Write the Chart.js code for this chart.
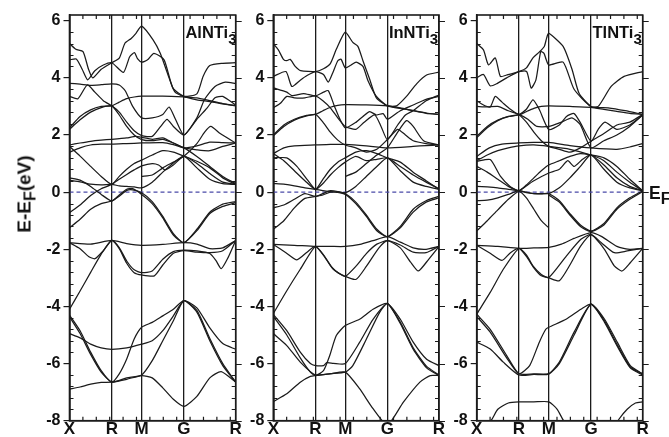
<!DOCTYPE html>
<html><head><meta charset="utf-8">
<script src="https://cdn.jsdelivr.net/npm/chart.js@4.4.1/dist/chart.umd.min.js"></script>
<style>
html,body{margin:0;padding:0;background:#fff;}
#wrap{position:relative;width:669px;height:437px;overflow:hidden;font-family:"Liberation Sans",Arial,sans-serif;font-weight:bold;color:#111;}
canvas{position:absolute;top:0;}
.lbl{position:absolute;white-space:nowrap;line-height:1;font-size:16.5px;}
.sub{position:relative;top:6px;font-size:15px;}
#ytitle{position:absolute;left:24px;top:194px;transform:translate(-50%,-50%) rotate(-90deg);white-space:nowrap;line-height:1;font-size:19px;}
#ytitle .sub{top:5px;font-size:16px;}
</style></head><body>
<div id="wrap">
<canvas id="c0"></canvas><canvas id="c1"></canvas><canvas id="c2"></canvas>
<div id="ytitle">E-E<span class="sub">F</span>(eV)</div>
<div class="lbl" id="t0">AlNTi<span class="sub">3</span></div>
<div class="lbl" id="t1">InNTi<span class="sub">3</span></div>
<div class="lbl" id="t2">TlNTi<span class="sub">3</span></div>
<div class="lbl" id="ef" style="left:649px;top:185px;font-size:17.5px;">E<span class="sub" style="top:5px;font-size:16px;">F</span></div>
</div>
<script>
// k-path: X R M G R  (s = 0..4 along the path, mapped to k distance)
const kLabels = ['X','R','M','G','R'];
const kDist = [0, 0.707, 1.207, 1.914, 2.780];
const yTicks = [-8,-6,-4,-2,0,2,4,6];
const eMin = -8, eMax = 6.2, eFermi = 0;
const panelNames = ['AlNTi','InNTi','TlNTi'];

// bands: each curve is a list of [s, E(eV)]
const alBands = [
 [[0,-6.9],[0.25,-6.82],[0.5,-6.72],[0.75,-6.66],[1,-6.65],[1.5,-6.55],[2,-6.42],[2.25,-6.5],[2.5,-6.85],[2.75,-7.25],[3,-7.5],[3.25,-7.15],[3.5,-6.5],[3.72,-6.28],[4,-6.65]],
 [[0,-4.3],[0.25,-4.85],[0.5,-5.6],[0.75,-6.25],[1,-6.65],[1.5,-6.5],[2,-6.4],[2.25,-5.9],[2.5,-5.2],[2.75,-4.5],[3,-3.8],[3.25,-4.2],[3.5,-5.2],[3.75,-6.07],[4,-6.65]],
 [[0,-4.36],[0.25,-4.95],[0.5,-5.68],[0.75,-6.3],[1,-6.65],[1.25,-6.36],[1.5,-5.84],[1.75,-5.14],[2,-4.73],[2.25,-4.56],[2.5,-4.33],[2.75,-4.1],[3,-3.8],[3.25,-4.14],[3.5,-5.12],[3.75,-6.0],[4,-6.65]],
 [[0,-4.95],[0.25,-5.1],[0.5,-5.32],[0.75,-5.45],[1,-5.5],[1.5,-5.45],[2,-5.32],[2.25,-5.2],[2.5,-4.85],[2.75,-4.33],[3,-3.8],[3.25,-4.05],[3.5,-4.75],[3.75,-5.3],[4,-5.5]],
 [[0,-4.1],[0.25,-3.46],[0.5,-2.81],[0.75,-2.17],[1,-1.69],[1.25,-1.94],[1.5,-2.41],[1.75,-2.72],[2,-2.82],[2.25,-2.76],[2.5,-2.35],[2.75,-2.08],[3,-2.03],[3.25,-2.06],[3.5,-2.15],[3.62,-2.4],[3.72,-2.68],[3.85,-2.3],[4,-1.69]],
 [[0,-1.77],[0.25,-1.98],[0.45,-2.25],[0.6,-2.33],[0.8,-2.05],[1,-1.69],[1.25,-1.98],[1.5,-2.49],[1.75,-2.82],[2,-2.9],[2.3,-2.93],[2.5,-2.55],[2.75,-2.14],[3,-2.05],[3.25,-2.1],[3.5,-2.12],[3.75,-2.05],[4,-1.69]],
 [[0,-1.77],[0.5,-1.82],[1,-1.69],[1.5,-1.8],[2,-1.86],[2.5,-1.83],[3,-1.77],[3.25,-1.82],[3.5,-1.98],[3.75,-1.95],[4,-1.69]],
 [[0,0.5],[0.25,0.42],[0.5,0.2],[0.75,-0.08],[1,-0.31],[1.25,-0.1],[1.5,0.1],[1.7,0.12],[2,-0.08],[2.25,-0.4],[2.5,-0.9],[2.75,-1.5],[3,-1.77],[3.25,-1.35],[3.5,-0.75],[3.75,-0.5],[4,-0.37]],
 [[0,-1.25],[0.25,-0.95],[0.5,-0.6],[0.75,-0.4],[1,-0.31],[1.25,-0.14],[1.5,0.06],[1.7,0.08],[2,-0.02],[2.25,-0.33],[2.5,-0.85],[2.75,-1.45],[3,-1.77],[3.25,-1.3],[3.5,-0.7],[3.75,-0.42],[4,-0.33]],
 [[0,0.42],[0.25,0.36],[0.5,0.28],[0.75,0.25],[1,0.27],[1.25,0.22],[1.5,0.2],[1.75,0.18],[2,0.15],[2.25,0.35],[2.5,0.7],[2.75,1.02],[3,1.26],[3.25,0.85],[3.5,0.45],[3.75,0.3],[4,0.27]],
 [[0,-0.72],[0.25,-0.45],[0.5,-0.12],[0.75,0.12],[1,0.27],[1.25,0.45],[1.5,0.62],[1.75,0.78],[2,0.92],[2.25,1.0],[2.4,0.95],[2.55,0.78],[2.75,0.95],[3,1.26],[3.25,1.0],[3.5,0.65],[3.75,0.35],[4,0.27]],
 [[0,1.6],[0.25,1.26],[0.5,0.9],[0.75,0.55],[1,0.27],[1.25,0.55],[1.5,0.8],[1.75,1.0],[2,1.12],[2.25,1.3],[2.5,1.45],[2.75,1.4],[3,1.26],[3.25,1.08],[3.5,0.85],[3.75,0.5],[4,0.27]],
 [[0,1.4],[0.25,1.55],[0.5,1.65],[0.75,1.68],[1,1.68],[1.5,1.7],[2,1.72],[2.5,1.73],[2.75,1.66],[3,1.55],[3.25,1.48],[3.5,1.45],[3.75,1.6],[4,1.72]],
 [[0,1.65],[0.25,1.72],[0.5,1.78],[0.75,1.82],[1,1.85],[1.5,1.9],[1.8,1.95],[2,1.92],[2.25,1.85],[2.5,1.9],[2.75,1.72],[3,1.55],[3.25,1.25],[3.5,0.9],[3.75,0.55],[4,0.3]],
 [[2,0.55],[2.25,0.6],[2.5,0.85],[2.75,1.05],[3,1.26],[3.25,1.7],[3.4,2.1],[3.52,2.3],[3.7,2.05],[4,1.72]],
 [[0,5.2],[0.15,5.0],[0.32,4.92],[0.45,4.3],[0.55,4.0],[0.75,4.3],[1,4.53],[1.25,4.69],[1.44,5.21],[1.65,5.38],[1.81,5.56],[2,5.81],[2.27,5.33],[2.44,4.86],[2.61,4.16],[2.78,3.52],[3,3.35],[3.25,3.44],[3.37,4.05],[3.5,4.43],[3.75,4.51],[4,4.53]],
 [[0,4.63],[0.16,4.66],[0.3,4.3],[0.43,3.93],[0.6,4.25],[0.8,4.45],[1,4.53],[1.39,4.19],[1.6,4.74],[1.76,4.88],[1.86,4.67],[2,4.55],[2.14,4.63],[2.29,4.86],[2.53,4.63],[2.74,3.64],[3,3.35],[3.25,3.23],[3.5,3.17],[3.75,3.09],[4,3.02]],
 [[0,3.81],[0.25,3.78],[0.5,3.74],[0.75,3.76],[1,3.79],[1.25,3.75],[1.45,3.55],[1.7,3.0],[2,2.6],[2.25,2.6],[2.5,2.72],[2.65,2.98],[2.8,2.55],[3,2.0],[3.25,2.6],[3.4,3.25],[3.6,3.7],[3.8,3.85],[4,3.8]],
 [[0,3.35],[0.2,3.27],[0.42,3.75],[0.6,3.5],[0.8,3.2],[1,3.02],[1.25,2.8],[1.5,2.45],[1.75,2.15],[2,1.98],[2.25,1.95],[2.45,2.3],[2.6,2.55],[2.75,2.3],[3,2.0],[3.25,2.55],[3.45,2.95],[3.6,3.3],[3.75,3.35],[4,3.05]],
 [[0,2.25],[0.25,2.65],[0.5,2.88],[0.75,3.0],[1,3.02],[1.25,3.15],[1.5,3.27],[1.75,3.33],[2,3.36],[2.5,3.36],[3,3.33],[3.25,3.3],[3.5,3.2],[3.75,3.1],[4,3.03]],
 [[0,2.2],[0.25,2.53],[0.5,2.8],[0.75,2.96],[1,3.02],[1.25,2.7],[1.5,2.3],[1.75,2.0],[2,1.84],[2.25,1.8],[2.5,1.85],[2.75,1.72],[3,1.55],[3.25,1.62],[3.5,1.75],[3.75,1.73],[4,1.72]]
];

const inBands = [
 [[0,-7.33],[0.32,-7.06],[0.64,-6.65],[0.88,-6.45],[1,-6.42],[1.5,-6.36],[2,-6.3],[2.34,-6.88],[2.66,-7.58],[3,-8.15],[3.31,-7.35],[3.63,-6.65],[3.83,-6.42],[4,-6.42]],
 [[0,-4.28],[0.32,-4.85],[0.64,-5.6],[0.88,-6.0],[1,-6.07],[1.27,-6.07],[1.38,-5.97],[1.6,-5.99],[2,-6.0],[2.34,-5.26],[2.66,-4.45],[3,-3.9],[3.25,-4.45],[3.5,-5.25],[3.76,-5.85],[4,-6.07]],
 [[0,-4.35],[0.32,-5.0],[0.64,-5.8],[0.88,-6.3],[1,-6.42],[1.27,-6.25],[1.48,-5.72],[1.7,-5.02],[2,-4.67],[2.34,-4.45],[2.66,-4.1],[3,-3.9],[3.25,-4.6],[3.5,-5.5],[3.76,-6.15],[4,-6.42]],
 [[0,-4.95],[0.32,-5.37],[0.64,-5.95],[1,-6.4],[1.5,-6.35],[2,-6.3],[2.18,-6.07],[2.5,-5.15],[2.82,-4.2],[3,-3.9],[3.25,-4.55],[3.5,-5.45],[3.76,-6.1],[4,-6.4]],
 [[0,-4.25],[0.32,-3.45],[0.64,-2.7],[1,-1.9],[1.27,-2.2],[1.54,-2.62],[1.8,-2.85],[2,-2.95],[2.25,-2.6],[2.5,-2.15],[2.75,-1.82],[3,-1.7],[3.25,-1.85],[3.5,-2.1],[3.75,-2.12],[4,-1.9]],
 [[0,-1.83],[0.3,-2.12],[0.56,-2.37],[0.8,-2.1],[1,-1.9],[1.3,-2.25],[1.6,-2.7],[2,-2.95],[2.26,-3.05],[2.5,-2.6],[2.8,-1.95],[3,-1.7],[3.25,-1.95],[3.45,-2.45],[3.6,-2.76],[3.8,-2.35],[4,-1.9]],
 [[0,-1.83],[0.5,-1.86],[1,-1.9],[1.5,-1.9],[2,-1.9],[2.35,-1.83],[2.66,-1.7],[3,-1.56],[3.25,-1.75],[3.5,-1.95],[3.75,-2.0],[4,-1.9]],
 [[0,-0.55],[0.25,-0.45],[0.5,-0.25],[0.75,-0.05],[1,-0.15],[1.25,-0.05],[1.5,0.05],[1.75,0.02],[2,-0.05],[2.25,-0.35],[2.5,-0.8],[2.75,-1.3],[3,-1.56],[3.25,-1.2],[3.5,-0.6],[3.75,-0.3],[4,-0.15]],
 [[0,-1.3],[0.25,-1.0],[0.5,-0.55],[0.75,-0.22],[1,-0.15],[1.25,-0.1],[1.5,0.0],[1.75,-0.01],[2,-0.08],[2.25,-0.4],[2.5,-0.85],[2.75,-1.35],[3,-1.56],[3.25,-1.25],[3.5,-0.7],[3.75,-0.35],[4,-0.2]],
 [[0,0.3],[0.25,0.28],[0.5,0.22],[0.75,0.15],[1,0.1],[1.25,0.05],[1.5,0.02],[1.75,0.0],[2,-0.02],[2.25,0.2],[2.5,0.55],[2.75,0.9],[3,1.2],[3.25,0.75],[3.5,0.35],[3.75,0.2],[4,0.1]],
 [[0,1.2],[0.32,1.2],[0.56,0.9],[0.8,0.45],[1,0.1],[1.25,0.3],[1.5,0.6],[1.75,0.85],[2,1.05],[2.25,1.25],[2.5,1.1],[2.75,1.15],[3,1.2],[3.25,0.9],[3.5,0.6],[3.75,0.35],[4,0.12]],
 [[0,1.35],[0.25,1.1],[0.5,0.75],[0.75,0.4],[1,0.1],[1.25,0.45],[1.5,0.8],[1.75,1.05],[2,1.2],[2.25,1.4],[2.5,1.45],[2.75,1.35],[3,1.2],[3.25,1.05],[3.5,0.7],[3.75,0.4],[4,0.1]],
 [[0,1.35],[0.25,1.55],[0.5,1.62],[1,1.65],[1.5,1.67],[2,1.67],[2.5,1.62],[3,1.55],[3.5,1.6],[3.75,1.63],[4,1.65]],
 [[2,0.55],[2.25,0.7],[2.5,1.0],[2.75,1.3],[3,1.55],[3.2,2.1],[3.37,2.5],[3.5,2.3],[3.7,1.8],[4,1.65]],
 [[0,5.2],[0.12,4.98],[0.24,4.65],[0.32,4.6],[0.4,4.65],[0.52,4.4],[0.65,4.25],[1,4.22],[1.27,4.32],[1.5,4.5],[1.7,5.0],[2,5.6],[2.18,5.24],[2.3,5.1],[2.42,4.6],[2.58,3.95],[2.74,3.3],[3,3.02],[3.18,3.02],[3.37,3.35],[3.57,3.8],[3.76,4.1],[4,4.2]],
 [[0,4.05],[0.3,4.22],[0.44,3.7],[0.64,3.92],[0.8,4.08],[1,4.22],[1.27,4.12],[1.43,3.85],[1.59,4.2],[1.75,4.6],[1.86,4.65],[2,4.35],[2.14,4.45],[2.26,4.55],[2.42,4.4],[2.54,3.9],[2.74,3.35],[3,3.02],[3.37,2.9],[3.76,2.77],[4,2.72]],
 [[0,3.65],[0.32,3.5],[0.44,3.38],[0.72,3.45],[1,3.37],[1.27,3.5],[1.43,3.55],[1.64,3.0],[1.8,2.6],[2,2.25],[2.26,2.45],[2.42,2.65],[2.58,2.82],[2.74,2.7],[2.9,2.75],[3,2.55],[3.25,2.85],[3.5,3.05],[3.75,3.25],[4,3.35]],
 [[0,2.95],[0.16,3.1],[0.32,3.35],[0.5,3.3],[0.75,3.3],[1,3.37],[1.25,3.2],[1.5,2.95],[1.75,2.6],[2,2.3],[2.25,2.2],[2.45,2.45],[2.7,2.7],[2.85,2.3],[3,1.84],[3.2,2.35],[3.35,2.7],[3.5,2.85],[3.75,3.2],[4,3.4]],
 [[0,2.0],[0.25,2.35],[0.5,2.55],[0.75,2.67],[1,2.72],[1.25,2.85],[1.5,2.97],[1.75,3.04],[2,3.06],[2.5,3.05],[3,3.02],[3.25,2.95],[3.5,2.85],[3.75,2.76],[4,2.72]],
 [[0,1.97],[0.25,2.3],[0.5,2.52],[0.75,2.65],[1,2.72],[1.25,2.45],[1.5,2.1],[1.75,1.82],[2,1.65],[2.25,1.55],[2.5,1.4],[2.75,1.5],[3,1.84],[3.2,2.2],[3.35,2.0],[3.5,1.8],[3.75,1.7],[4,1.65]]
];

const tlBands = [
 [[0,-8.5],[0.2,-8.2],[0.36,-7.95],[0.5,-7.6],[0.75,-7.38],[1,-7.34],[1.5,-7.34],[2,-7.34],[2.2,-7.6],[2.34,-7.97],[2.6,-8.4],[3,-8.8],[3.4,-8.4],[3.54,-7.95],[3.7,-7.6],[3.86,-7.38],[4,-7.34]],
 [[0,-4.27],[0.32,-4.8],[0.71,-5.72],[1,-6.36],[1.5,-6.36],[2,-6.35],[2.25,-5.95],[2.6,-4.9],[3,-3.92],[3.26,-4.44],[3.51,-5.26],[3.76,-6.07],[4,-6.36]],
 [[0,-4.35],[0.32,-4.9],[0.71,-5.8],[1,-6.36],[1.36,-6.07],[1.68,-5.26],[1.9,-4.8],[2,-4.73],[2.42,-4.44],[2.76,-4.1],[3,-3.92],[3.26,-4.5],[3.51,-5.35],[3.76,-6.12],[4,-6.36]],
 [[0,-5.25],[0.32,-5.49],[0.63,-5.95],[1,-6.4],[1.5,-6.38],[2,-6.37],[2.25,-6.0],[2.6,-5.0],[3,-3.92],[3.26,-4.55],[3.51,-5.4],[3.76,-6.15],[4,-6.4]],
 [[0,-4.27],[0.32,-3.51],[0.63,-2.7],[1,-1.97],[1.25,-2.2],[1.47,-2.58],[1.75,-2.88],[2,-2.99],[2.42,-2.23],[2.76,-1.65],[3,-1.48],[3.2,-1.77],[3.45,-2.12],[3.7,-2.06],[4,-1.97]],
 [[0,-1.86],[0.3,-2.12],[0.6,-2.39],[0.8,-2.12],[1,-1.97],[1.25,-2.25],[1.5,-2.65],[1.75,-2.93],[2,-3.0],[2.25,-3.1],[2.5,-2.55],[2.75,-1.9],[3,-1.5],[3.26,-2.0],[3.45,-2.58],[3.6,-2.76],[3.76,-2.47],[4,-1.97]],
 [[0,-1.86],[0.5,-1.9],[1,-1.97],[1.5,-1.95],[2,-1.93],[2.3,-1.82],[2.6,-1.62],[3,-1.42],[3.2,-1.55],[3.5,-1.9],[3.75,-2.0],[4,-1.97]],
 [[0,-0.3],[0.25,-0.28],[0.5,-0.2],[0.75,-0.08],[1,0.05],[1.25,-0.02],[1.5,-0.05],[1.75,-0.06],[2,-0.05],[2.25,-0.3],[2.5,-0.75],[2.75,-1.15],[3,-1.36],[3.25,-1.1],[3.5,-0.55],[3.75,-0.2],[4,0.05]],
 [[0,-1.36],[0.25,-1.0],[0.5,-0.62],[0.75,-0.25],[1,0.03],[1.25,-0.2],[1.5,-0.6],[1.75,-1.0],[2,-1.25]],
 [[2,-0.1],[2.25,-0.35],[2.5,-0.8],[2.75,-1.2],[3,-1.38],[3.25,-1.15],[3.5,-0.6],[3.75,-0.25],[4,0.02]],
 [[0,0.2],[0.25,0.18],[0.5,0.15],[0.75,0.1],[1,0.05],[1.25,0.0],[1.5,-0.05],[1.75,-0.05],[2,-0.05],[2.25,0.15],[2.5,0.5],[2.75,0.9],[3,1.3],[3.25,0.8],[3.5,0.35],[3.75,0.15],[4,0.05]],
 [[0,1.08],[0.32,1.14],[0.56,0.56],[0.79,0.2],[1,0.05],[1.47,0.38],[2,0.67],[2.25,0.8],[2.45,1.1],[2.6,0.9],[2.8,1.15],[3,1.3],[3.25,0.95],[3.5,0.5],[3.75,0.2],[4,0.05]],
 [[0,0.9],[0.25,0.7],[0.5,0.45],[0.75,0.2],[1,0.05],[1.25,0.25],[1.5,0.5],[1.75,0.75],[2,0.95],[2.25,1.1],[2.5,1.25],[2.75,1.35],[3,1.3],[3.25,1.2],[3.5,0.9],[3.75,0.45],[4,0.05]],
 [[0,1.25],[0.3,1.55],[0.6,1.68],[1,1.72],[1.5,1.74],[2,1.74],[2.5,1.63],[3,1.55],[3.5,1.5],[3.75,1.58],[4,1.7]],
 [[0,1.1],[0.25,1.3],[0.5,1.45],[0.75,1.55],[1,1.62],[1.5,1.65],[2,1.6],[2.5,1.5],[3,1.3],[3.25,1.1],[3.5,0.7],[3.75,0.35],[4,0.05]],
 [[0,5.2],[0.16,4.98],[0.28,4.45],[0.44,4.7],[0.56,4.05],[0.71,4.1],[1,4.22],[1.25,4.35],[1.47,4.7],[1.68,4.9],[1.85,5.1],[1.93,5.4],[2,5.56],[2.34,5.1],[2.55,4.3],[2.72,3.45],[3,3.0],[3.14,3.0],[3.39,3.7],[3.64,4.05],[4,4.22]],
 [[0,4.0],[0.16,4.12],[0.32,3.72],[0.48,3.8],[0.71,4.0],[1,4.22],[1.26,4.22],[1.41,3.64],[1.57,3.93],[1.73,4.92],[1.84,4.86],[1.91,4.65],[2,4.45],[2.34,4.55],[2.6,3.6],[3,3.0],[3.33,2.95],[3.66,2.85],[4,2.72]],
 [[0,3.2],[0.16,3.05],[0.32,2.98],[0.44,3.35],[0.6,3.15],[0.8,2.9],[1,2.72],[1.25,2.9],[1.47,3.23],[1.68,2.9],[2,2.19],[2.25,2.35],[2.42,2.65],[2.6,2.75],[2.76,2.4],[3,1.78],[3.14,2.2],[3.27,2.45],[3.5,2.2],[3.75,2.35],[4,2.7]],
 [[0,3.0],[0.25,2.98],[0.5,3.0],[0.75,2.85],[1,2.72],[1.3,2.55],[1.6,2.3],[2,2.3],[2.3,2.45],[2.55,2.6],[2.75,2.35],[3,1.55],[3.25,1.8],[3.5,2.0],[3.75,2.3],[4,2.7]],
 [[0,1.95],[0.25,2.3],[0.5,2.52],[0.75,2.65],[1,2.7],[1.25,2.82],[1.5,2.93],[1.75,3.0],[2,3.02],[2.5,3.0],[3,2.97],[3.25,2.9],[3.5,2.83],[3.75,2.76],[4,2.72]],
 [[0,1.9],[0.25,2.25],[0.5,2.5],[0.75,2.64],[1,2.7],[1.25,2.45],[1.5,2.1],[1.75,1.8],[2,1.6],[2.25,1.5],[2.5,1.4],[2.75,1.55],[3,1.78],[3.25,2.05],[3.5,2.35],[3.75,2.45],[4,2.72]]
];

const allBands = [alBands, inBands, tlBands];
// panel geometry (pixels)
const panelLeft = [69.5, 273.3, 476.7];
const panelRight = [235.7, 439.0, 642.7];
const plotTop = 15, plotBottom = 420.7, H = 437;
const xMinorStep = 0.2241, yMinorStep = 0.4;

function sToK(s){
  const i = Math.min(3, Math.floor(s));
  return kDist[i] + (s - i) * (kDist[i+1] - kDist[i]);
}

const frameTicks = {
  id: 'frameTicks',
  afterDraw(chart){
    const {ctx, chartArea: a, scales: {x, y}} = chart;
    ctx.save();
    ctx.strokeStyle = '#1b1b1b';
    ctx.lineWidth = 1.2;
    ctx.beginPath();
    for (let i = 0; ; i++){
      const v = eMin + i * yMinorStep;
      if (v > eMax + 1e-9) break;
      const py = Math.round(y.getPixelForValue(v)) + 0.5;
      const major = Math.abs(v/2 - Math.round(v/2)) < 1e-6;
      if (major){ ctx.moveTo(a.right, py); ctx.lineTo(a.right + 6, py); }
      else { ctx.moveTo(a.left, py); ctx.lineTo(a.left + 4, py); ctx.moveTo(a.right, py); ctx.lineTo(a.right - 4, py); }
    }
    for (let i = 1; ; i++){
      const k = i * xMinorStep;
      if (k >= kDist[4] - 0.02) break;
      const px = x.getPixelForValue(k);
      ctx.moveTo(px, a.top); ctx.lineTo(px, a.top + 4);
      ctx.moveTo(px, a.bottom); ctx.lineTo(px, a.bottom - 4);
    }
    ctx.stroke();
    ctx.lineWidth = 1.6;
    ctx.strokeRect(a.left, a.top, a.right - a.left, a.bottom - a.top);
    ctx.restore();
  }
};

allBands.forEach((bands, p) => {
  const cv = document.getElementById('c' + p);
  const cl = Math.floor(panelLeft[p] - 45);
  const yW = panelLeft[p] - cl;
  const w = Math.ceil(panelRight[p] - cl + 8);
  const padR = w - (panelRight[p] - cl);
  cv.style.left = cl + 'px';
  cv.width = w; cv.height = H;
  cv.style.width = w + 'px'; cv.style.height = H + 'px';

  const datasets = bands.map(b => ({
    data: b.map(([s, e]) => ({x: sToK(s), y: e})),
    showLine: true, borderColor: '#1b1b1b', borderWidth: 1.25,
    pointRadius: 0, tension: 0.2, fill: false
  }));
  datasets.push({
    data: [{x: kDist[0], y: eFermi}, {x: kDist[4], y: eFermi}],
    showLine: true, borderColor: '#4a4aa8', borderWidth: 1.1, borderDash: [4, 3],
    pointRadius: 0, fill: false
  });

  new Chart(cv, {
    type: 'scatter',
    data: {datasets},
    options: {
      responsive: false, animation: false, devicePixelRatio: 1,
      layout: {padding: {top: plotTop, right: padR, left: 0, bottom: 0}},
      plugins: {legend: {display: false}, tooltip: {enabled: false}},
      scales: {
        x: {
          type: 'linear', min: kDist[0], max: kDist[4],
          afterBuildTicks: s => { s.ticks = kDist.map(v => ({value: v})); },
          afterFit: s => { s.height = H - plotBottom; },
          ticks: {callback: (v, i) => kLabels[i], autoSkip: false, maxRotation: 0, padding: 0,
                  color: '#111', font: {family: 'Liberation Sans', weight: 'bold', size: 17, lineHeight: 1}},
          grid: {color: '#1b1b1b', lineWidth: 1.3, drawTicks: false, drawOnChartArea: true},
          border: {display: true, color: '#1b1b1b', width: 1.6}
        },
        y: {
          type: 'linear', min: eMin, max: eMax,
          afterBuildTicks: s => { s.ticks = yTicks.map(v => ({value: v})); },
          afterFit: s => { s.width = yW; },
          ticks: {padding: 3, color: '#111', font: {family: 'Liberation Sans', weight: 'bold', size: 16}},
          grid: {drawOnChartArea: false, drawTicks: true, tickLength: 6, color: '#1b1b1b', lineWidth: 1.2},
          border: {display: true, color: '#1b1b1b', width: 1.6}
        }
      }
    },
    plugins: [frameTicks]
  });

  const gx = panelLeft[p] + (sToK(3) / kDist[4]) * (panelRight[p] - panelLeft[p]);
  const t = document.getElementById('t' + p);
  t.style.left = (gx + 1.5) + 'px';
  t.style.top = '24px';
});
</script>
</body></html>
